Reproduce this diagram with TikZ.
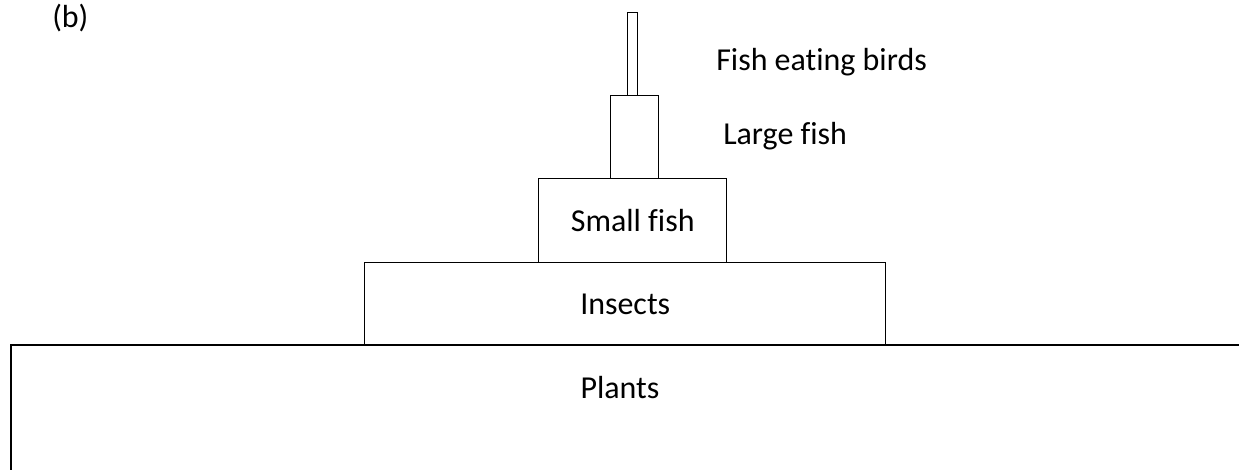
\documentclass[tikz,border=0pt]{standalone}
\usepackage{fontspec}
\setmainfont{Carlito}[Ligatures=NoCommon]
\begin{document}
\begin{tikzpicture}[x=0.0264cm,y=-0.0264cm,
  lvl/.style={draw, line width=1.1pt, inner sep=0pt, anchor=north west},
  lbl/.style={font=\fontsize{24}{28}\selectfont, inner sep=0pt}]
\useasboundingbox (0,0) rectangle (1239,470);
\node[lbl, anchor=west] (b) at (52,18) {(b)};
\node[lvl, minimum width=10*0.0264cm, minimum height=83*0.0264cm] (birds) at (627,12) {};
\node[lvl, minimum width=48*0.0264cm, minimum height=83*0.0264cm] (large) at (610,95) {};
\node[lvl, minimum width=188*0.0264cm, minimum height=84*0.0264cm] (small) at (538,178) {};
\node[lvl, minimum width=521*0.0264cm, minimum height=83*0.0264cm] (insects) at (364,262) {};
\draw[line width=1.1pt] (1239,345) -- (11,345) -- (11,470);
\coordinate (plants) at (620,388);
\node[lbl] at (small.center) {Small fish};
\node[lbl] at (insects.center) {Insects};
\node[lbl] (plantslbl) at (plants) {Plants};
\node[lbl, anchor=west] (birdslbl) at (716,62) {Fish eating birds};
\node[lbl, anchor=west] (largelbl) at (723,136) {Large fish};
\end{tikzpicture}
\end{document}
